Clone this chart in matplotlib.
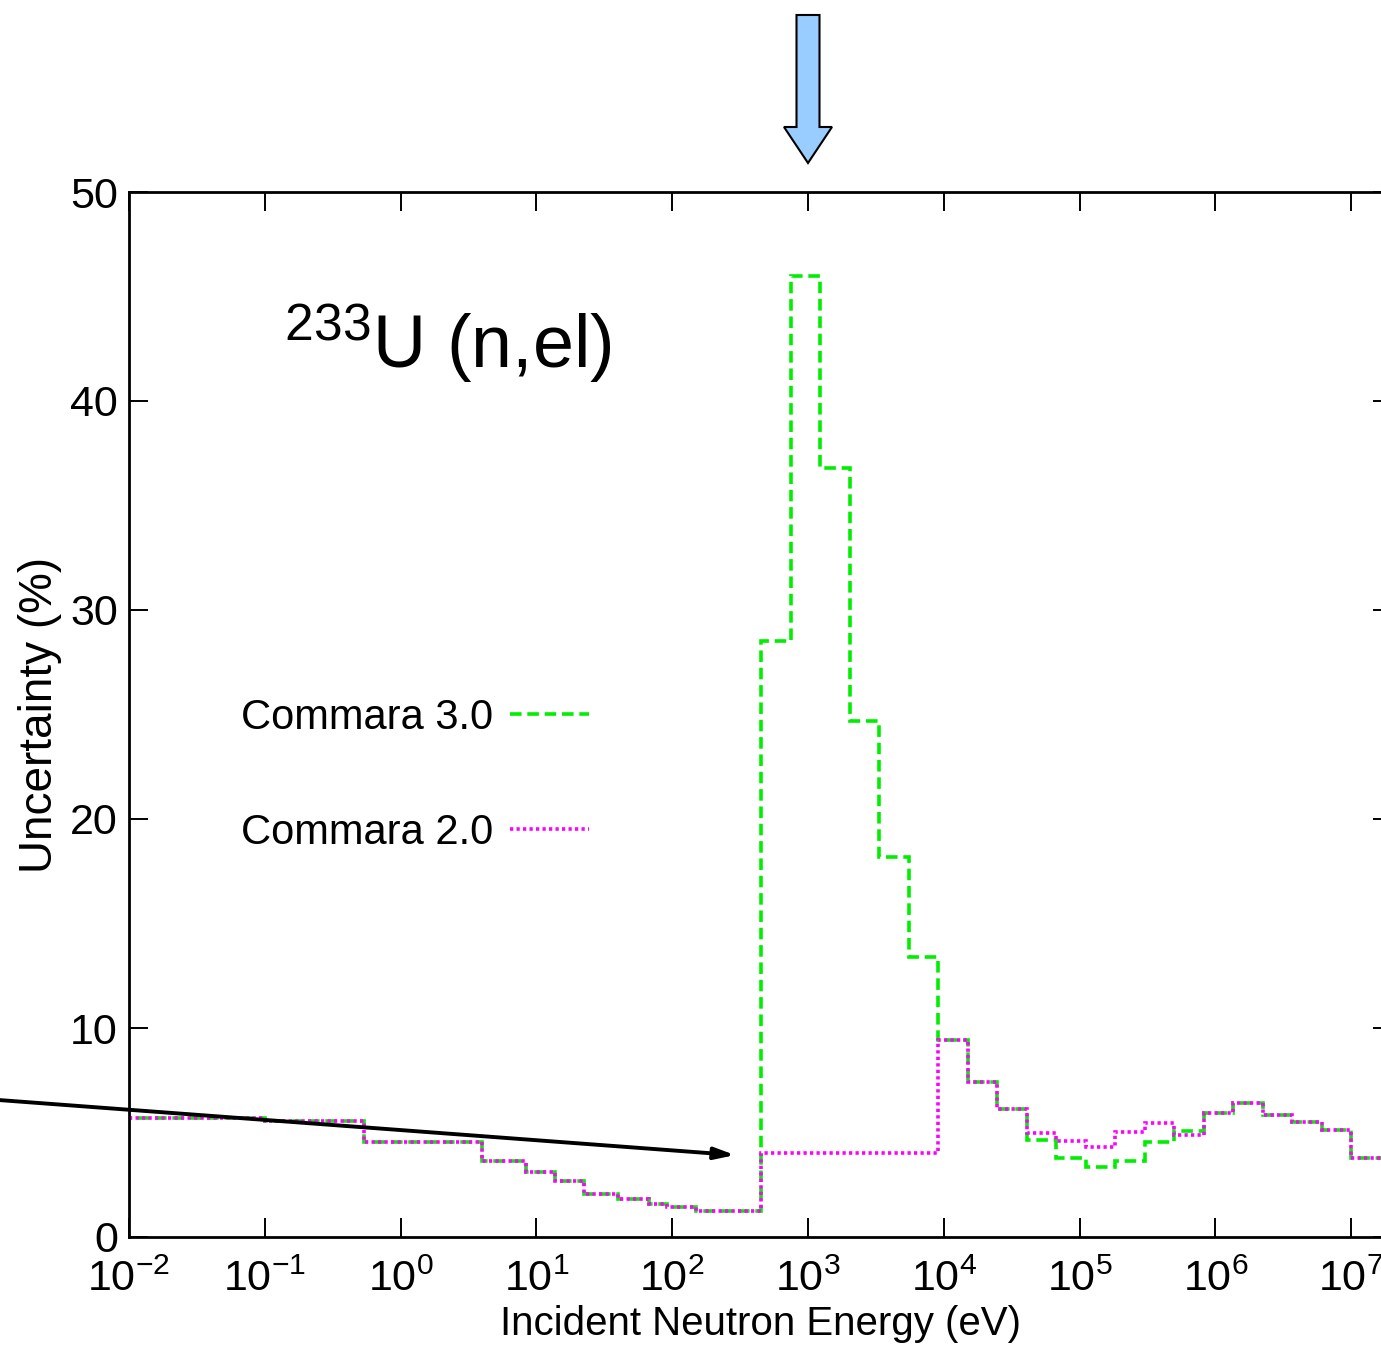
import matplotlib
matplotlib.use("Agg")
import matplotlib.pyplot as plt
from matplotlib.patches import FancyArrow
from matplotlib import font_manager

names = {f.name for f in font_manager.fontManager.ttflist}
fam = [f for f in ["Liberation Sans Narrow", "Liberation Sans", "DejaVu Sans"] if f in names]
plt.rcParams['font.family'] = fam
plt.rcParams['mathtext.default'] = 'regular'

# 33-group energy boundaries (eV), ascending
edges = [1e-5, 0.1, 0.54, 4.0, 8.32, 13.7, 22.6, 40.2, 67.9, 91.66, 148.6, 304.0, 454.0,
         748.5, 1230.0, 2030.0, 3350.0, 5530.0, 9120.0, 1.50e4, 2.48e4, 4.09e4, 6.74e4,
         1.11e5, 1.83e5, 3.02e5, 4.98e5, 8.21e5, 1.35e6, 2.23e6, 3.68e6, 6.07e6, 1.0e7, 1.96e7]

commara30 = [5.70, 5.54, 4.55, 3.66, 3.10, 2.70, 2.06, 1.82, 1.60, 1.45, 1.25, 1.25,
             28.5, 46.0, 36.8, 24.7, 18.2, 13.4, 9.43, 7.43, 6.11, 4.64, 3.80, 3.33,
             3.64, 4.56, 5.07, 5.95, 6.43, 5.84, 5.52, 5.12, 3.80]
commara20 = [5.70, 5.54, 4.55, 3.66, 3.10, 2.70, 2.06, 1.82, 1.60, 1.45, 1.25, 1.25,
             4.0, 4.0, 4.0, 4.0, 4.0, 4.0, 9.43, 7.43, 6.11, 4.96, 4.59, 4.29,
             5.01, 5.47, 4.88, 5.95, 6.43, 5.84, 5.52, 5.12, 3.80]

labels = ["Commara 3.0", "Commara 2.0"]
xticks = [1e-2, 1e-1, 1e0, 1e1, 1e2, 1e3, 1e4, 1e5, 1e6, 1e7]
xticklabels = [r"$10^{-2}$", r"$10^{-1}$", r"$10^{0}$", r"$10^{1}$", r"$10^{2}$",
               r"$10^{3}$", r"$10^{4}$", r"$10^{5}$", r"$10^{6}$", r"$10^{7}$"]
yticks = [0, 10, 20, 30, 40, 50]

W, H = 1381, 1346
fig = plt.figure(figsize=(W/100, H/100), dpi=100)
ax = fig.add_axes([129/W, 1-1237/H, (1392-129)/W, (1237-192)/H])
ax.set_xscale('log')
ax.set_xlim(1e-2, 2e7)
ax.set_ylim(0, 50)

l1 = ax.stairs(commara30, edges, baseline=None, color='#00ee00', lw=2.6,
               linestyle=(0, (3.2, 1.6)), label=labels[0])
l2 = ax.stairs(commara20, edges, baseline=None, color='#ff00ff', lw=2.6,
               linestyle=(0, (0.9, 0.9)), label=labels[1])

ax.set_xticks(xticks)
ax.set_xticklabels(xticklabels)
ax.minorticks_off()
ax.set_yticks(yticks)
ax.tick_params(axis='both', which='major', direction='in', length=14, width=1.4,
               top=True, right=True, labelsize=31, pad=8)
ax.tick_params(axis='x', pad=16)
for s in ax.spines.values():
    s.set_linewidth(2)

ax.set_xlabel("Incident Neutron Energy (eV)", fontsize=29, labelpad=4)
ax.set_ylabel("Uncertainty (%)", fontsize=33, labelpad=6)

ax.text(0.123, 0.855, r"$^{233}$U (n,el)", transform=ax.transAxes, fontsize=53,
        ha='left', va='center')

leg = ax.legend(handles=[l1, l2], loc='upper left', bbox_to_anchor=(0.059, 0.552),
                frameon=False, markerfirst=False, fontsize=30, handlelength=1.9,
                labelspacing=1.8, handletextpad=0.4)

# black annotation arrow
ax.annotate("", xy=(290, 3.92), xytext=(1.12e-3, 6.55), xycoords='data',
            textcoords='data', annotation_clip=False,
            arrowprops=dict(arrowstyle='-|>,head_length=1.2,head_width=0.35',
                            color='black', lw=2.8, shrinkA=0, shrinkB=0))

# blue arrow at the top
arr = FancyArrow(808/W, 1-15/H, 0, -(163-15)/H, width=23/W, head_width=48/W,
                 head_length=36/H, length_includes_head=True, transform=fig.transFigure,
                 facecolor='#99ccff', edgecolor='black', lw=1.5)
fig.patches.append(arr)

fig.savefig("out.png", dpi=100)
